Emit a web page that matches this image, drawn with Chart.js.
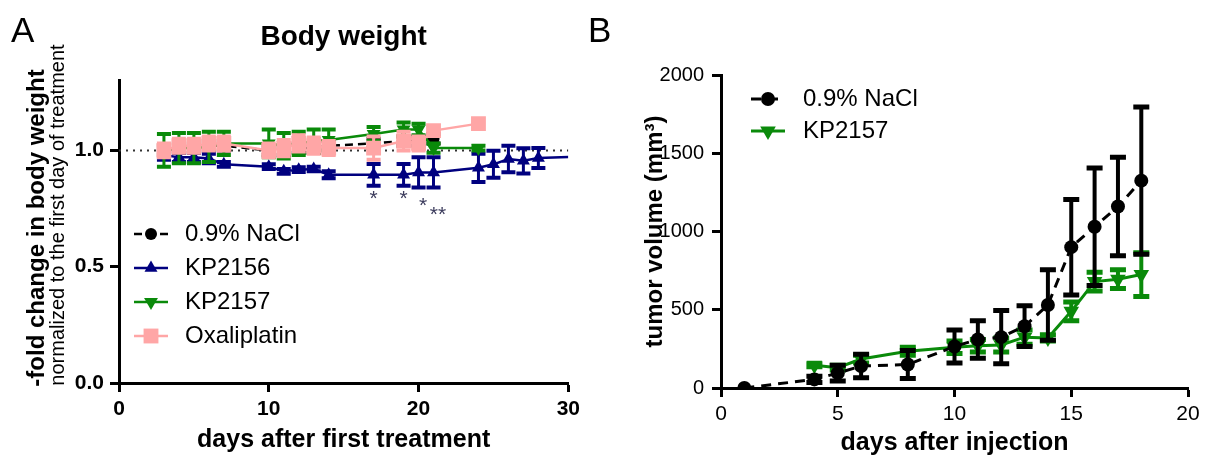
<!DOCTYPE html>
<html><head><meta charset="utf-8">
<script src="https://cdn.jsdelivr.net/npm/chart.js@4.4.1/dist/chart.umd.min.js"></script>
<style>
html,body{margin:0;padding:0;background:#fff;width:1209px;height:463px;overflow:hidden}
canvas{position:absolute;top:0}
#a{left:0}
#b{left:585px}
</style></head><body>
<canvas id="a" width="585" height="463"></canvas>
<canvas id="b" width="624" height="463"></canvas>
<script>
// ---------- Panel A data (body weight) ----------
const daysA      = [3,4,5,6,7,10,11,12,13,14,17,19,20,21];
const naclA      = [1.00,1.01,1.01,1.02,1.02,1.00,1.00,1.01,1.01,1.02,1.03,1.04,1.04,1.05];
const naclErrA   = [0.02,0.02,0.02,0.02,0.02,0.02,0.02,0.02,0.02,0.02,0.02,0.02,0.02,0.02];

const kp2156Days = [3,4,5,6,7,10,11,12,13,14,17,19,20,21,24,25,26,27,28,30];
const kp2156A    = [0.98,0.97,0.97,0.965,0.94,0.93,0.91,0.917,0.92,0.895,0.895,0.895,0.905,0.905,0.925,0.94,0.963,0.955,0.967,0.972];
const kp2156Err  = [0.02,0.02,0.02,0.02,0.01,0.01,0.01,0.01,0.01,0.015,0.047,0.047,0.065,0.065,0.061,0.058,0.057,0.054,0.043,0];

const kp2157DaysA = [3,4,5,6,7,10,11,12,13,14,17,19,20,21,24];
const kp2157A     = [1.00,1.01,1.01,1.015,1.03,1.03,1.02,1.03,1.04,1.045,1.07,1.09,1.09,1.01,1.01];
const kp2157ErrA  = [0.07,0.065,0.065,0.065,0.05,0.06,0.055,0.05,0.05,0.045,0.03,0.03,0.025,0.02,0.01];

const oxaliDays  = [3,4,5,6,7,10,11,12,13,14,17,19,20,21,24];
const oxaliA     = [1.00,1.02,1.02,1.03,1.03,1.00,1.01,1.03,1.02,1.01,1.01,1.04,1.03,1.085,1.115];
const oxaliErr   = [0.03,0.03,0.03,0.03,0.03,0.03,0.035,0.035,0.035,0.03,0.05,0.04,0.03,0,0];

const refX = [0,30];
const refY = [1,1];

const sigX    = [17,19,20.3,21.3];
const sigY    = [0.79,0.79,0.76,0.72];
const sigText = ['*','*','*','**'];

const xTicksA = [0,10,20,30];
const yTicksA = [0,0.5,1.0];

// ---------- Panel B data (tumor volume) ----------
const naclDaysB = [1,4,5,6,8,10,11,12,13,14,15,16,17,18];
const naclB     = [0,55,95,140,150,265,310,325,395,530,900,1030,1160,1325];
const naclErrB  = [0,20,50,75,90,105,120,170,130,225,305,375,315,470];

const kpDaysB   = [4,5,6,8,10,11,12,13,14,15,16,17,18];
const kpB       = [145,130,185,235,260,270,275,325,320,490,680,695,725];
const kpErrB    = [10,15,25,25,40,40,45,45,20,60,60,60,140];

const xTicksB = [0,5,10,15,20];
const yTicksB = [0,500,1000,1500,2000];

// ---------- helpers ----------
const FONT = "'Liberation Sans', Arial, sans-serif";
const pts = (xs, ys) => xs.map((x,i)=>({x:x,y:ys[i]}));

function marker(ctx, style, x, y, r, rot){
  ctx.beginPath();
  if(style==='circle'){ ctx.arc(x,y,r,0,Math.PI*2); }
  else if(style==='rect'){ const s=r*Math.SQRT1_2; ctx.rect(x-s,y-s,2*s,2*s); }
  else if(style==='triangle'){
    const sgn = rot===180 ? -1 : 1;
    for(let k=0;k<3;k++){
      const a = -Math.PI/2 + k*2*Math.PI/3;
      const px = x + r*Math.cos(a), py = y + sgn*r*Math.sin(a);
      if(k===0) ctx.moveTo(px,py); else ctx.lineTo(px,py);
    }
    ctx.closePath();
  }
  ctx.fill();
}

const errorBars = {
  id:'errorBars',
  beforeDatasetDraw(chart, args){
    const ds = chart.data.datasets[args.index];
    if(!ds.errors) return;
    const xs = chart.scales.x, ys = chart.scales.y, ctx = chart.ctx;
    const cap = ds.capHalf || 7;
    ctx.save();
    ctx.strokeStyle = ds.borderColor;
    ds.data.forEach((p,i)=>{
      const e = ds.errors[i];
      if(!e) return;
      const x = xs.getPixelForValue(p.x);
      const y1 = ys.getPixelForValue(p.y+e), y2 = ys.getPixelForValue(p.y-e);
      ctx.lineWidth = ds.errWidth || 3;
      ctx.beginPath(); ctx.moveTo(x,y1); ctx.lineTo(x,y2); ctx.stroke();
      ctx.lineWidth = ds.capWidth || 4;
      ctx.beginPath();
      ctx.moveTo(x-cap,y1); ctx.lineTo(x+cap,y1);
      ctx.moveTo(x-cap,y2); ctx.lineTo(x+cap,y2);
      ctx.stroke();
    });
    ctx.restore();
  }
};

const decor = {
  id:'decor',
  afterDraw(chart, args, o){
    const ctx = chart.ctx;
    ctx.save();
    ctx.fillStyle = '#000';
    ctx.textBaseline = 'middle';
    ctx.textAlign = 'left';
    ctx.font = '35px ' + FONT;
    ctx.fillText(o.panel, o.panelX, o.panelY);
    (o.yTitles||[]).forEach(t=>{
      ctx.save();
      ctx.translate(t.x, t.y);
      ctx.rotate(-Math.PI/2);
      ctx.textAlign='center';
      ctx.font = t.font;
      ctx.fillText(t.text, 0, 0);
      ctx.restore();
    });
    if(o.sig){
      ctx.fillStyle = '#3b3b5c';
      ctx.textAlign = 'center';
      ctx.font = '21px ' + FONT;
      o.sig.x.forEach((d,i)=>{
        ctx.fillText(o.sig.t[i], chart.scales.x.getPixelForValue(d), chart.scales.y.getPixelForValue(o.sig.y[i]));
      });
    }
    const L = o.legend;
    let row = 0;
    chart.data.datasets.forEach(ds=>{
      if(ds.noLegend) return;
      const y = L.y + row*L.dy;
      ctx.save();
      ctx.strokeStyle = ds.borderColor;
      ctx.fillStyle = ds.pointBackgroundColor || ds.borderColor;
      ctx.lineWidth = ds.borderWidth;
      ctx.setLineDash(ds.borderDash || []);
      ctx.beginPath(); ctx.moveTo(L.x, y); ctx.lineTo(L.x + L.len, y); ctx.stroke();
      ctx.setLineDash([]);
      marker(ctx, ds.pointStyle, L.x + L.len/2, y, ds.legendRadius || ds.pointRadius, ds.pointRotation||0);
      ctx.restore();
      ctx.fillStyle = '#000';
      ctx.textAlign = 'left';
      ctx.font = L.font;
      ctx.fillText(ds.label, L.tx, y);
      row++;
    });
    ctx.restore();
  }
};

function axis(min, max, tickArr, fmt, tickFont, tickPad, fitFn, title){
  return {
    type:'linear', min:min, max:max,
    afterBuildTicks: s => { s.ticks = tickArr.map(v=>({value:v})); },
    afterFit: fitFn,
    grid:{display:true, drawOnChartArea:false, drawTicks:true, tickLength:9, tickWidth:3, tickColor:'#000'},
    border:{display:true, color:'#000', width:3},
    ticks:{font:tickFont, color:'#000', padding:tickPad, maxRotation:0, autoSkip:false, callback: v => fmt(v)},
    title: title || {display:false}
  };
}

// ---------- Chart A ----------
const NAVY = '#00007f', GREEN = '#0a8a0a', PINK = '#ffa6a6';
new Chart(document.getElementById('a'), {
  type:'line',
  data:{datasets:[
    {label:'0.9% NaCl', data:pts(daysA,naclA), errors:naclErrA, borderColor:'#000', backgroundColor:'#000',
     pointBackgroundColor:'#000', pointBorderWidth:0, borderDash:[8,5], borderWidth:2.5, pointStyle:'circle', pointRadius:6, order:4},
    {label:'KP2156', data:pts(kp2156Days,kp2156A), errors:kp2156Err, borderColor:NAVY, backgroundColor:NAVY,
     pointBackgroundColor:NAVY, pointBorderWidth:0, borderWidth:2.5, pointStyle:'triangle', legendRadius:7.5,
     pointRadius: c => c.dataIndex === kp2156Days.length-1 ? 0 : 7.5, order:3},
    {label:'KP2157', data:pts(kp2157DaysA,kp2157A), errors:kp2157ErrA, borderColor:GREEN, backgroundColor:GREEN,
     pointBackgroundColor:GREEN, pointBorderWidth:0, borderWidth:2.5, pointStyle:'triangle', pointRotation:180, pointRadius:8, order:2},
    {label:'Oxaliplatin', data:pts(oxaliDays,oxaliA), errors:oxaliErr, borderColor:PINK, backgroundColor:PINK,
     pointBackgroundColor:PINK, pointBorderWidth:0, borderWidth:2.5, pointStyle:'rect', pointRadius:10.5, order:1},
    {label:'ref', noLegend:true, data:pts(refX,refY), borderColor:'#333', borderDash:[2,5], borderWidth:2, pointRadius:0, order:5}
  ]},
  options:{
    responsive:false, animation:false, devicePixelRatio:1,
    layout:{padding:{left:0,right:14,top:0,bottom:0}},
    plugins:{
      legend:{display:false}, tooltip:{enabled:false},
      title:{display:true, text:'Body weight', fullSize:false, color:'#000', font:{family:FONT,size:28,weight:'bold'}, padding:{top:20,bottom:27}},
      decor:{panel:'A', panelX:11, panelY:32,
        yTitles:[
          {text:'-fold change in body weight', x:37, y:228, font:'bold 24px '+FONT},
          {text:'normalized to the first day of treatment', x:58, y:215, font:'20px '+FONT}
        ],
        sig:{x:sigX, y:sigY, t:sigText},
        legend:{x:134, len:34, tx:185, y:234, dy:34, font:'24px '+FONT}
      }
    },
    scales:{
      x: axis(0,30,xTicksA, v=>String(v), {family:FONT,size:21,weight:'bold'}, 5, s=>{s.height=80;},
        {display:true, text:'days after first treatment', color:'#000', font:{family:FONT,size:25,weight:'bold'}, padding:{top:0,bottom:8}}),
      y: axis(0,1.3,yTicksA, v=>v.toFixed(1), {family:FONT,size:21,weight:'bold'}, 6, s=>{s.width=119;})
    }
  },
  plugins:[errorBars, decor]
});

// ---------- Chart B ----------
new Chart(document.getElementById('b'), {
  type:'line',
  data:{datasets:[
    {label:'0.9% NaCl', data:pts(naclDaysB,naclB), errors:naclErrB, borderColor:'#000', backgroundColor:'#000',
     pointBackgroundColor:'#000', pointBorderWidth:0, borderDash:[10,7], borderWidth:3, pointStyle:'circle', pointRadius:7,
     errWidth:4, capWidth:5, capHalf:8, order:1},
    {label:'KP2157', data:pts(kpDaysB,kpB), errors:kpErrB, borderColor:GREEN, backgroundColor:GREEN,
     pointBackgroundColor:GREEN, pointBorderWidth:0, borderWidth:3, pointStyle:'triangle', pointRotation:180, pointRadius:9,
     errWidth:4, capWidth:5, capHalf:8, order:2}
  ]},
  options:{
    responsive:false, animation:false, devicePixelRatio:1,
    layout:{padding:{left:0,right:21,top:75,bottom:0}},
    plugins:{
      legend:{display:false}, tooltip:{enabled:false},
      decor:{panel:'B', panelX:3, panelY:32,
        legend:{x:166, len:34, tx:218, y:99, dy:32, font:'24px '+FONT}
      }
    },
    scales:{
      x: axis(0,20,xTicksB, v=>String(v), {family:FONT,size:21}, 5, s=>{s.height=75;},
        {display:true, text:'days after injection', color:'#000', font:{family:FONT,size:25,weight:'bold'}, padding:{top:0,bottom:5}}),
      y: axis(0,2000,yTicksB, v=>String(v), {family:FONT,size:20}, 8, s=>{s.width=136;},
        {display:true, text:'tumor volume (mm³)', color:'#000', font:{family:FONT,size:24,weight:'bold'}, padding:{top:56,bottom:0}})
    }
  },
  plugins:[errorBars, decor]
});
</script>
</body></html>
